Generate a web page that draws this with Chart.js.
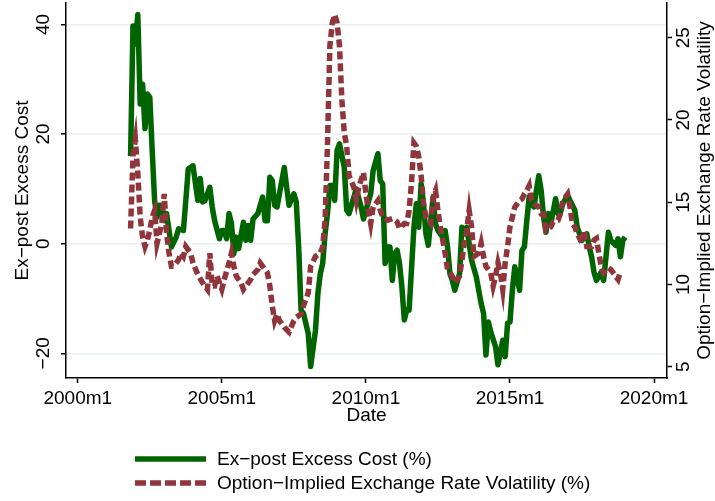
<!DOCTYPE html>
<html>
<head>
<meta charset="utf-8">
<script src="https://cdn.jsdelivr.net/npm/chart.js@4.4.1/dist/chart.umd.min.js"></script>
<style>
html, body { margin: 0; padding: 0; background: #fff; }
</style>
</head>
<body>
<canvas id="chart" width="715" height="501"></canvas>
<script>
// x values are months counted from 2000m1 (= 0)
const costMonths = [22, 23, 24, 25, 26, 27, 28, 29, 30, 31, 32, 33, 34, 35, 36, 37, 39, 41, 42, 44,
	45, 46, 48, 50, 51, 52, 53, 55, 56, 57, 59, 60, 61, 62, 63, 64, 65, 66, 67, 69,
	70, 71, 72, 73, 75, 77, 78, 79, 80, 81, 82, 83, 84, 86, 87, 88, 90, 91, 92, 93,
	94, 96, 97, 99, 100, 101, 102, 103, 104, 105, 106, 107, 108, 109, 111, 112, 113, 115, 116, 118,
	119, 120, 122, 123, 125, 126, 127, 128, 129, 130, 131, 132, 133, 134, 135, 136, 137, 138, 140, 141,
	142, 143, 144, 145, 146, 147, 148, 149, 150, 152, 153, 154, 155, 156, 157, 159, 160, 161, 162, 164,
	166, 168, 169, 170, 171, 172, 174, 175, 177, 178, 179, 180, 181, 182, 184, 185, 186, 187, 188, 189,
	190, 191, 192, 193, 194, 195, 196, 197, 199, 200, 201, 202, 204, 205, 207, 208, 210, 212, 213, 214,
	215, 216, 218, 219, 220, 221, 222, 224, 225, 226, 227, 228];
const costValues = [16, 39.7, 36.4, 41.8, 25.5, 29.1, 21, 27.3, 26.7, 17, 7.9, 4.8, 7, 7, 4.2, 5.5, -0.6, 1.2, 2.7, 2.4,
	7.9, 13.6, 14.2, 7.9, 11.9, 7.6, 7.9, 10.3, 6.7, 4.2, 0.9, 2.4, 2.4, 0.9, 5.5, 3.7, -1.8, 1.2, -0.9, 3.9,
	0.6, 3.3, 0.6, 4.5, 5.5, 8.5, 4.2, 4.2, 12.1, 11.5, 7, 6.7, 9.1, 13.9, 10.3, 7, 9.1, 7.6, -0.6, -12.1,
	-12.7, -16.4, -22.4, -15.8, -9.1, -5.5, -3.6, 1.8, 5.5, 10.6, 10.6, 7.9, 17, 18.2, 13.9, 6.1, 5.5, 8.5, 10, 6.7,
	4.5, 6.1, 9.1, 13.3, 16.4, 11.5, 10.9, -3.6, -0.6, -0.6, -6.7, -1.8, -1.2, -3.6, -7.9, -13.9, -12.1, -12.1, 3, 7.3,
	3, 10.9, 7.3, 1.8, -0.3, 4.2, 8.5, 3.6, 2.4, 1.2, 2.4, -0.6, -5.5, -6.7, -8.5, -5.5, 3, 1.8, 3, -3,
	-6.1, -10.9, -12.7, -20.3, -14.3, -16.1, -18.8, -22.1, -17.6, -20.6, -14.5, -14.3, -8.5, -4.2, -8.5, -1.2, -0.6, 4.2, 8.5, 7.3,
	6.7, 9.7, 12.4, 9.7, 4.8, 2.1, 5.5, 3.6, 8.2, 5.5, 5.7, 7.3, 8.8, 7.9, 6.1, 3, 0.6, 1.8, -0.6, -2.4,
	-5.2, -6.7, -5.2, -6.7, -2.4, 2.1, 0.6, -0.3, 0.9, -2.4, 0.6, 1.2];

const volMonths = [22, 23, 24, 25, 26, 27, 28, 29, 30, 31, 32, 33, 34, 35, 36, 37, 38, 39, 40, 42,
	43, 44, 45, 47, 48, 50, 52, 54, 55, 56, 57, 58, 60, 61, 63, 64, 65, 66, 68, 69,
	71, 72, 73, 75, 76, 77, 79, 80, 81, 82, 83, 84, 86, 88, 90, 91, 93, 94, 96, 97,
	99, 101, 102, 103, 104, 105, 106, 107, 108, 109, 110, 111, 112, 113, 115, 116, 117, 119, 120, 121,
	122, 123, 125, 126, 127, 129, 131, 133, 134, 136, 137, 138, 139, 140, 141, 142, 143, 144, 145, 146,
	147, 148, 149, 150, 151, 152, 153, 154, 156, 157, 159, 160, 161, 162, 163, 164, 165, 167, 168, 169,
	170, 172, 173, 174, 175, 176, 177, 178, 179, 180, 181, 182, 184, 185, 186, 187, 188, 189, 190, 192,
	193, 194, 195, 197, 198, 200, 201, 202, 204, 205, 206, 207, 208, 210, 211, 212, 214, 215, 216, 217,
	218, 219, 221, 222, 224, 225, 226];
const volValues = [13.4, 17.8, 18.8, 16.8, 14.1, 12.9, 12.3, 12.7, 13.3, 14.1, 14.5, 12.5, 13.1, 13.7, 15.5, 13.1, 11.9, 11.1, 11.1, 11.5,
	11.9, 11.7, 12.3, 11.9, 11.3, 10.6, 10.1, 9.7, 11.9, 9.9, 9.9, 10.5, 9.7, 10.3, 11.3, 11.9, 11.1, 10.5, 10.1, 9.7,
	10.1, 10.3, 10.6, 10.9, 11.3, 11.1, 10.7, 9.9, 8.7, 7.8, 8.2, 7.8, 7.4, 7.1, 7.8, 8.0, 8.2, 8.7, 9.5, 11.1,
	11.7, 11.9, 12.3, 13.9, 18.5, 24.5, 25.9, 26.4, 25.9, 24.5, 21.2, 19.2, 18.4, 16.6, 15.9, 15.1, 15.9, 16.8, 15.5, 14.5,
	13.7, 14.7, 15.1, 14.5, 14.1, 13.9, 14.0, 13.8, 13.4, 13.7, 13.7, 14.5, 16.2, 18.6, 18.4, 17.8, 16.6, 14.9, 14.1, 13.9,
	13.7, 15.3, 15.7, 14.5, 13.5, 12.7, 11.9, 10.9, 10.5, 10.1, 10.5, 11.5, 12.5, 13.3, 14.5, 13.5, 11.7, 11.9, 12.5, 11.7,
	11.1, 10.7, 9.9, 10.5, 11.3, 10.7, 9.7, 11.3, 12.3, 13.5, 14.1, 14.7, 15.1, 15.2, 15.5, 15.7, 16.0, 15.1, 14.9, 14.7,
	14.3, 14.3, 13.3, 13.5, 13.8, 13.9, 14.3, 15.1, 15.5, 14.7, 13.7, 13.5, 13.1, 12.5, 13.3, 12.3, 12.3, 12.7, 12.8, 11.9,
	11.1, 10.7, 11.0, 10.9, 10.5, 10.3, 10.8];

const dateTicks = [0, 60, 120, 180, 240];
const costTicks = [-20, 0, 20, 40];
const volTicks = [5, 10, 15, 20, 25];

const costLabel = 'Ex\u2212post Excess Cost (%)';
const volLabel = 'Option\u2212Implied Exchange Rate Volatility (%)';
const costTitle = 'Ex\u2212post Excess Cost';
const volTitle = 'Option\u2212Implied Exchange Rate Volatility';

const FONT = '"Liberation Sans", Arial, Helvetica, sans-serif';
const FONT_SIZE = 19;
const GREEN = '#006400';
const CRANBERRY = '#90353b';
const GRID = '#e9f0f2';

Chart.defaults.font.family = FONT;
Chart.defaults.font.size = FONT_SIZE;
Chart.defaults.color = '#000';

function toPoints(xs, ys) {
	return xs.map((x, i) => ({ x: x, y: ys[i] }));
}
function monthLabel(m) {
	return (2000 + Math.floor(m / 12)) + 'm' + (m % 12 + 1);
}
function minus(v) {
	return String(v).replace('-', '\u2212');
}
function fixTicks(list) {
	return scale => { scale.ticks = list.map(v => ({ value: v })); };
}
function fixWidth(w) {
	return s => {
		s.width = w;
		s.paddingTop = 0;
		s.paddingBottom = 0;
	};
}

// y tick labels stand upright (read bottom to top), centred on their ticks
function drawUprightTicks(ctx, scale, cx) {
	scale.ticks.forEach(t => {
		const y = scale.getPixelForValue(t.value);
		ctx.save();
		ctx.translate(cx, y);
		ctx.rotate(-Math.PI / 2);
		ctx.fillText(minus(t.value), 0, 0);
		ctx.restore();
	});
}

const extras = {
	id: 'extras',
	afterDraw(chart) {
		const ctx = chart.ctx;
		const area = chart.chartArea;
		const cost = chart.scales.cost;
		const vol = chart.scales.vol;
		ctx.save();
		ctx.font = FONT_SIZE + 'px ' + FONT;
		ctx.fillStyle = '#000';
		ctx.textAlign = 'center';
		ctx.textBaseline = 'middle';

		drawUprightTicks(ctx, cost, cost.right - 22.5);
		drawUprightTicks(ctx, vol, vol.left + 17);

		// right title, same direction as the left one
		ctx.save();
		ctx.translate(705, (area.top + area.bottom) / 2);
		ctx.rotate(-Math.PI / 2);
		ctx.fillText(volTitle, 0, 0);
		ctx.restore();

		// legend: one entry per row under the plot
		const rows = [459, 483];
		chart.data.datasets.forEach((ds, i) => {
			const y = rows[i];
			ctx.beginPath();
			ctx.lineWidth = ds.borderWidth;
			ctx.strokeStyle = ds.borderColor;
			ctx.setLineDash(ds.borderDash ? [11, 4] : []);
			ctx.moveTo(135, y);
			ctx.lineTo(206, y);
			ctx.stroke();
			ctx.setLineDash([]);
			ctx.textAlign = 'left';
			ctx.fillText(ds.label, 217, y + 1);
		});
		ctx.restore();
	}
};

new Chart(document.getElementById('chart'), {
	type: 'line',
	data: {
		datasets: [
			{
				label: costLabel,
				data: toPoints(costMonths, costValues),
				yAxisID: 'cost',
				borderColor: GREEN,
				borderWidth: 5.5,
				borderJoinStyle: 'round',
				pointRadius: 0,
				tension: 0,
				order: 2,
			},
			{
				label: volLabel,
				data: toPoints(volMonths, volValues),
				yAxisID: 'vol',
				borderColor: CRANBERRY,
				borderWidth: 5.5,
				borderDash: [8, 4],
				pointRadius: 0,
				tension: 0,
				order: 1,
			},
		],
	},
	options: {
		responsive: false,
		animation: false,
		events: [],
		layout: { padding: { top: 3, left: 0, right: 0, bottom: 73 } },
		plugins: { legend: { display: false }, tooltip: { enabled: false } },
		scales: {
			x: {
				type: 'linear',
				min: -4.9,
				max: 245.4,
				afterBuildTicks: fixTicks(dateTicks),
				afterFit: s => { s.height = 50; s.paddingLeft = 0; s.paddingRight = 0; },
				ticks: { callback: v => monthLabel(v), maxRotation: 0, padding: 4 },
				grid: { drawOnChartArea: false, tickLength: 5, tickColor: '#000', tickWidth: 1.5 },
				border: { color: '#000', width: 1.5 },
				title: { display: true, text: 'Date', padding: { top: 0, bottom: 1 } },
			},
			cost: {
				position: 'left',
				min: -24.5,
				max: 43.9,
				afterBuildTicks: fixTicks(costTicks),
				afterFit: fixWidth(66),
				ticks: { display: false },
				grid: { color: GRID, lineWidth: 1.5, tickLength: 5, tickColor: '#000', tickWidth: 1.5 },
				border: { color: '#000', width: 1.5 },
				title: { display: true, text: costTitle, padding: { top: 11, bottom: 0 } },
			},
			vol: {
				position: 'right',
				min: 4.31,
				max: 27.11,
				afterBuildTicks: fixTicks(volTicks),
				afterFit: fixWidth(48),
				ticks: { display: false },
				grid: { drawOnChartArea: false, tickLength: 5, tickColor: '#000', tickWidth: 1.5 },
				border: { color: '#000', width: 1.5 },
			},
		},
	},
	plugins: [extras],
});
</script>
</body>
</html>
